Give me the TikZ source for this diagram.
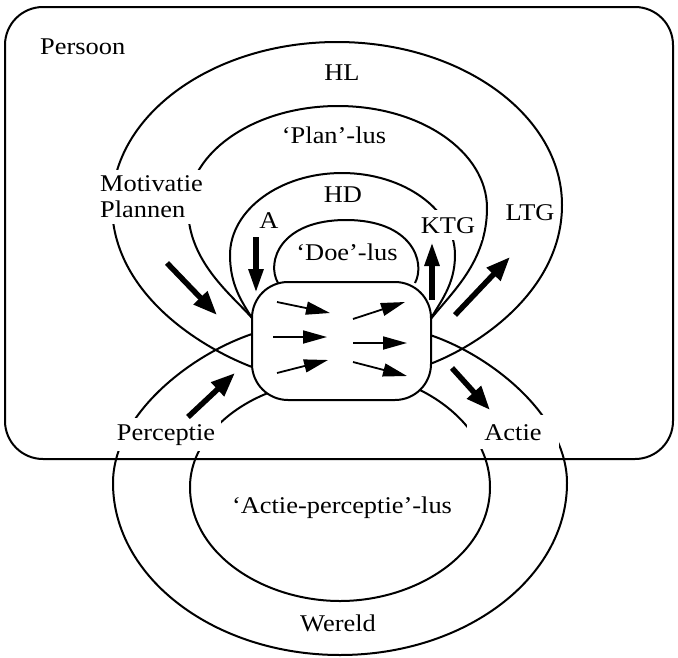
\documentclass[tikz,border=0pt]{standalone}
\usepackage{fontspec}
\setmainfont{Liberation Serif}[FakeStretch=1.1]
\usepackage{tikz}
\usetikzlibrary{arrows.meta}

\begin{document}
\begin{tikzpicture}[x=1pt,y=-1pt,font=\fontsize{24}{26}\selectfont,
  loop/.style={line width=2pt},
  cut/.style={fill=white,inner sep=6pt},
  lbl/.style={inner sep=2pt},
  flow/.style={line width=1.8pt,-{Triangle[length=24pt,width=13pt]}},
  push/.style={line width=5.5pt,-{Triangle[length=24pt,width=#1]}},
  push/.default=18pt]
  \useasboundingbox (0,0) rectangle (678,657);
  % person frame
  \draw[loop,rounded corners=38pt] (5,7) rectangle (673,459);
  % loops through the core
  \draw[loop] (252,367) .. controls (195,345) and (112,290) .. (112,205)
    .. controls (112,115) and (213,42) .. (337,42)
    .. controls (461,42) and (562,115) .. (562,205)
    .. controls (562,290) and (480,345) .. (430,364);
  \draw[loop] (252,318) .. controls (232,295) and (188,262) .. (188,208)
    .. controls (188,152) and (255,106) .. (338,106)
    .. controls (421,106) and (487,152) .. (487,208)
    .. controls (487,262) and (452,292) .. (430,320);
  \draw[loop] (252,318) .. controls (242,302) and (230,285) .. (230,255)
    .. controls (230,210) and (280,173) .. (342,173)
    .. controls (404,173) and (455,210) .. (455,255)
    .. controls (455,285) and (440,302) .. (430,320);
  \draw[loop] (278,283) .. controls (266,262) and (280,220) .. (346,220)
    .. controls (412,220) and (426,262) .. (415,283);
  \draw[loop] (252,334) .. controls (190,355) and (113,415) .. (113,483)
    .. controls (113,578) and (215,655) .. (340,655)
    .. controls (465,655) and (567,578) .. (567,483)
    .. controls (567,415) and (490,355) .. (430,335);
  \draw[loop] (268,393) .. controls (225,410) and (190,445) .. (190,487)
    .. controls (190,555) and (265,601) .. (340,601)
    .. controls (415,601) and (490,555) .. (490,487)
    .. controls (490,445) and (460,410) .. (420,390);
  % labels
  \node[lbl,anchor=base west] (persoon) at (38,54) {Persoon};
  \node[lbl,anchor=base] (hl) at (342,80) {HL};
  \node[lbl,anchor=base] (plan) at (334,143) {`Plan'-lus};
  \node[cut,align=left,anchor=north west] (motiv) at (94,169.6) {Motivatie\\Plannen};
  \node[lbl,anchor=base] (a) at (269,228) {A};
  \node[lbl,anchor=base] (hd) at (343,202) {HD};
  \node[lbl,anchor=base] (doe) at (347,260) {`Doe'-lus};
  \node[cut,inner sep=7pt,anchor=base] (ktg) at (448,233) {KTG};
  \node[lbl,anchor=base] (ltg) at (530,220) {LTG};
  \node[cut,anchor=base] (perc) at (166,440) {Perceptie};
  \node[cut,minimum width=92pt,minimum height=34pt,anchor=base] (actie) at (513,440) {Actie};
  \node[lbl,anchor=base] (aplus) at (342,513) {`Actie-perceptie'-lus};
  \node[lbl,anchor=base] (wereld) at (338,631) {Wereld};
  % core
  \node[loop,draw,fill=white,rounded corners=36pt,minimum width=179pt,minimum height=118pt] (core) at (341.5,341) {};
  \draw[flow] (277,302) -- (330,313);
  \draw[flow] (273,337) -- (327,337);
  \draw[flow] (277,373) -- (328,360);
  \draw[flow] (353,319) -- (405,302);
  \draw[flow] (353,343) -- (407,343);
  \draw[flow] (353,362) -- (407,376);
  % fat arrows
  \draw[push] (167,263) -- (217,315);
  \draw[push=14pt] (256,237) -- (256,293);
  \draw[push=14pt] (432,300) -- (432,242);
  \draw[push] (455,315) -- (510,257);
  \draw[push] (188,417) -- (235,373);
  \draw[push] (452,368) -- (490,410);
\end{tikzpicture}
\end{document}
